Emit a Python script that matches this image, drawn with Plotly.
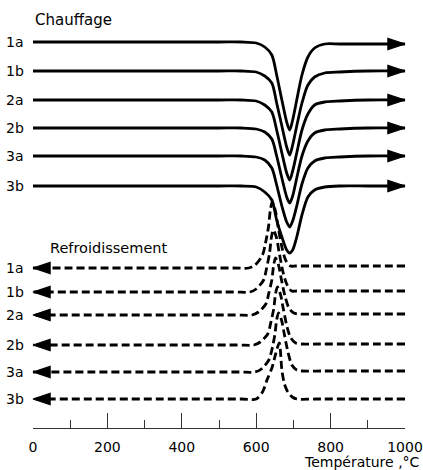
import plotly.graph_objects as go

# ---------------- data ----------------
samples = ["1a", "1b", "2a", "2b", "3a", "3b"]
tick_vals = [0, 200, 400, 600, 800, 1000]
tick_text = ["0", "200", "400", "600", "800", "1000"]

# Heating (Chauffage) - temperature grid in °C, signal in arbitrary units
heat_T = [0, 500, 560, 600, 623, 642, 655, 669, 682, 690, 698, 709, 723, 739, 757, 784, 825, 900, 1000]
heat_1a = [38.6, 38.6, 38.6, 38.5, 38.1, 37.3, 35.3, 32.8, 30.6, 29.8, 30.8, 32.8, 35.3, 37.1, 38.0, 38.4, 38.4, 38.4, 38.4]
heat_1b = [35.7, 35.7, 35.7, 35.6, 35.2, 34.5, 32.5, 30.2, 28.1, 27.3, 28.3, 30.2, 32.5, 34.3, 35.1, 35.5, 35.6, 35.7, 35.7]
heat_2a = [32.8, 32.8, 32.8, 32.7, 32.3, 31.6, 29.8, 27.5, 25.5, 24.8, 25.7, 27.5, 29.8, 31.4, 32.3, 32.6, 32.7, 32.8, 32.8]
heat_2b = [30.0, 30.0, 30.0, 29.9, 29.6, 28.9, 27.2, 25.0, 23.1, 22.5, 23.2, 25.0, 27.2, 28.7, 29.5, 29.8, 29.9, 30.0, 30.0]
heat_3a = [27.2, 27.2, 27.2, 27.1, 26.8, 26.0, 24.3, 22.2, 20.6, 20.1, 20.7, 22.2, 24.4, 26.0, 26.7, 27.0, 27.1, 27.2, 27.2]
heat_3b = [24.2, 24.2, 24.2, 24.1, 23.6, 22.8, 20.8, 19.1, 17.8, 17.5, 17.8, 19.1, 21.3, 23.1, 23.8, 24.1, 24.2, 24.2, 24.2]
heat_series = [heat_1a, heat_1b, heat_2a, heat_2b, heat_3a, heat_3b]

# Cooling (Refroidissement) - run from 1000 °C down to 0 °C
cool_T_1a = [1000, 760, 706, 692, 679, 669, 659, 651, 643, 638, 633, 625, 617, 597, 580, 540, 0]
cool_1a = [16.2, 16.2, 16.2, 16.2, 16.8, 18.1, 20.1, 21.8, 22.6, 21.8, 20.1, 18.5, 17.3, 16.3, 16.0, 16.0, 16.0]
cool_T_1b = [1000, 760, 709, 695, 682, 672, 662, 654, 646, 641, 636, 628, 620, 600, 583, 540, 0]
cool_1b = [13.7, 13.7, 13.7, 13.7, 14.4, 15.6, 17.5, 19.1, 19.8, 19.1, 17.5, 16.0, 14.8, 13.9, 13.6, 13.6, 13.6]
cool_T_2a = [1000, 770, 715, 701, 688, 678, 668, 660, 652, 647, 642, 634, 626, 606, 589, 545, 0]
cool_2a = [11.4, 11.4, 11.4, 11.5, 12.0, 13.1, 14.8, 16.3, 17.0, 16.3, 14.8, 13.5, 12.4, 11.6, 11.3, 11.3, 11.3]
cool_T_2b = [1000, 770, 720, 706, 693, 683, 673, 665, 657, 652, 647, 639, 631, 611, 594, 550, 0]
cool_2b = [8.4, 8.4, 8.4, 8.5, 9.0, 10.1, 11.9, 13.4, 14.1, 13.4, 11.9, 10.5, 9.4, 8.6, 8.3, 8.3, 8.3]
cool_T_3a = [1000, 775, 723, 709, 696, 686, 676, 668, 660, 655, 650, 642, 634, 614, 597, 550, 0]
cool_3a = [5.7, 5.7, 5.7, 5.8, 6.3, 7.5, 9.3, 10.8, 11.5, 10.8, 9.3, 7.8, 6.8, 5.9, 5.6, 5.6, 5.6]
cool_T_3b = [1000, 760, 709, 697, 685, 676, 669, 662, 653, 643, 629, 617, 600, 560, 0]
cool_3b = [2.9, 2.9, 2.9, 3.1, 3.6, 4.4, 5.8, 8.5, 7.5, 6.1, 4.8, 3.6, 2.9, 2.9, 2.9]
cool_T = [cool_T_1a, cool_T_1b, cool_T_2a, cool_T_2b, cool_T_3a, cool_T_3b]
cool_series = [cool_1a, cool_1b, cool_2a, cool_2b, cool_3a, cool_3b]

FONT = "DejaVu Sans"
fig = go.Figure()


def add_curve(xs, ys, dash):
    n = len(xs)
    fig.add_trace(go.Scatter(
        x=xs, y=ys, mode="lines+markers",
        line=dict(color="black", width=2.8, shape="spline", smoothing=0.8, dash=dash),
        marker=dict(symbol="arrow", angleref="previous", color="black", opacity=1,
                    size=[0] * (n - 1) + [18], line=dict(width=1.2, color="black")),
        cliponaxis=False, hoverinfo="skip", showlegend=False,
    ))


for ys in heat_series:
    add_curve(heat_T, ys, "solid")
for xs, ys in zip(cool_T, cool_series):
    add_curve(xs, ys, "8px,4px")

# curve labels
for name, ys in zip(samples, heat_series):
    fig.add_annotation(x=0, y=ys[0], xref="x", yref="y", text=name, showarrow=False,
                       xanchor="right", yanchor="middle", xshift=-7,
                       font=dict(family=FONT, size=14, color="black"))
for name, ys in zip(samples, cool_series):
    fig.add_annotation(x=0, y=ys[-1], xref="x", yref="y", text=name, showarrow=False,
                       xanchor="right", yanchor="middle", xshift=-7,
                       font=dict(family=FONT, size=14, color="black"))

fig.add_annotation(x=0, y=40.8, xref="x", yref="y", text="Chauffage", showarrow=False,
                   xanchor="left", yanchor="middle", xshift=0,
                   font=dict(family=FONT, size=15, color="black"))
fig.add_annotation(x=0, y=18.0, xref="x", yref="y", text="Refroidissement", showarrow=False,
                   xanchor="left", yanchor="middle", xshift=15,
                   font=dict(family=FONT, size=14.5, color="black"))
fig.add_annotation(x=1.045, y=-0.08, xref="paper", yref="paper", text="Température ,°C",
                   showarrow=False, xanchor="right", yanchor="middle",
                   font=dict(family=FONT, size=14, color="black"))

fig.update_layout(
    width=423, height=470,
    margin=dict(l=33, r=18, t=0, b=42),
    paper_bgcolor="white", plot_bgcolor="white",
    xaxis=dict(range=[0, 1000], tickvals=tick_vals, ticktext=tick_text,
               ticks="inside", ticklen=15, tickwidth=1, tickcolor="#333",
               showline=True, linecolor="#333", linewidth=1,
               showgrid=False, zeroline=False,
               minor=dict(ticks="inside", ticklen=8, dtick=100, tick0=0, tickcolor="#333", tickwidth=1),
               tickfont=dict(family=FONT, size=14, color="black"),
               ticklabelstandoff=6),
    yaxis=dict(range=[0, 42.8], visible=False, showgrid=False, zeroline=False),
)

fig.write_html("out.html")
